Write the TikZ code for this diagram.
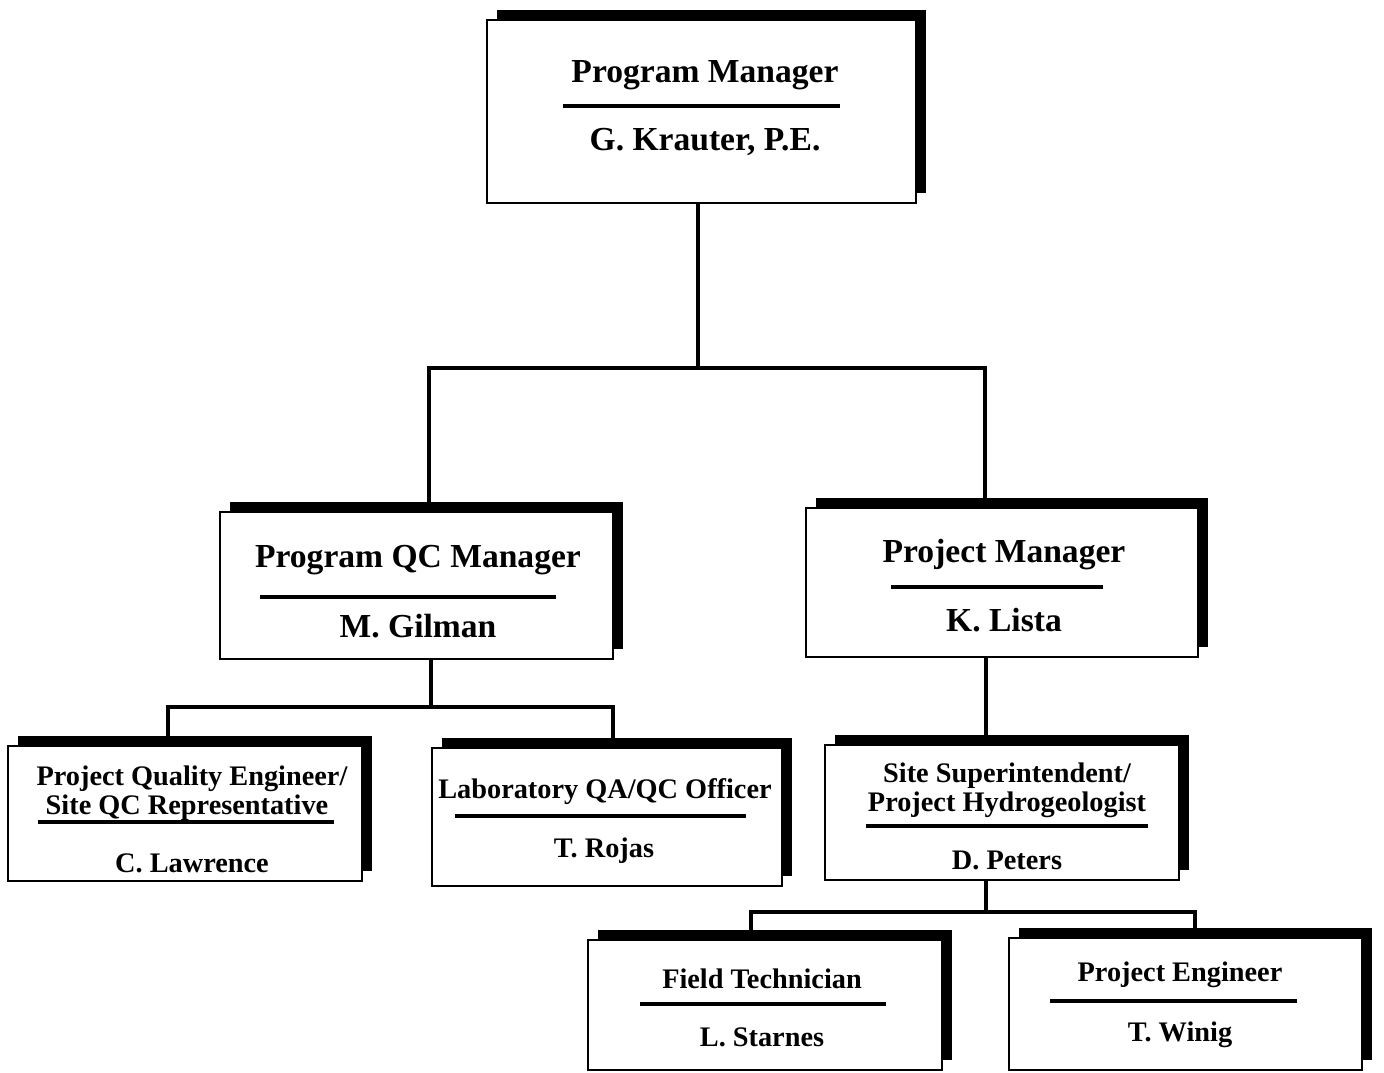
\documentclass[tikz,border=0pt]{standalone}
\usepackage{fontspec}
\setmainfont{Liberation Serif}
\usetikzlibrary{shadows}
\tikzset{
  orgbox/.style={draw=black, line width=0.75pt, fill=white, inner sep=0pt,
    drop shadow={shadow xshift=0.1cm, shadow yshift=0.1cm, opacity=1, fill=black}},
  bigtxt/.style={font=\fontsize{9.55}{11}\selectfont\bfseries, inner sep=0pt, anchor=base},
  smalltxt/.style={font=\fontsize{8.05}{9}\selectfont\bfseries, inner sep=0pt, anchor=base},
  rule/.style={line width=1pt},
  conn/.style={line width=0.9pt}
}
\begin{document}
\begin{tikzpicture}[x=0.01cm,y=-0.01cm]
\useasboundingbox (0,0) rectangle (1384,1072);
% boxes
\node[orgbox, minimum width=4.29cm, minimum height=1.83cm] (A) at (701.5,111.5) {};
\node[orgbox, minimum width=3.93cm, minimum height=1.47cm] (B) at (416.5,585.5) {};
\node[orgbox, minimum width=3.92cm, minimum height=1.49cm] (C) at (1002,582.5) {};
\node[orgbox, minimum width=3.54cm, minimum height=1.35cm] (D) at (185,813.5) {};
\node[orgbox, minimum width=3.50cm, minimum height=1.38cm] (E) at (607,817) {};
\node[orgbox, minimum width=3.54cm, minimum height=1.35cm] (F) at (1002,812.5) {};
\node[orgbox, minimum width=3.54cm, minimum height=1.30cm] (G) at (765,1005) {};
\node[orgbox, minimum width=3.53cm, minimum height=1.32cm] (H) at (1185.5,1004) {};
% texts
\node[bigtxt] (At) at (705,82) {Program Manager};
\draw[rule] (563,106) -- (840,106);
\node[bigtxt] (An) at (705,150) {G. Krauter, P.E.};

\node[bigtxt] (Bt) at (418,567) {Program QC Manager};
\draw[rule] (260,597) -- (556,597);
\node[bigtxt] (Bn) at (418,637) {M. Gilman};

\node[bigtxt] (Ct) at (1004,562) {Project Manager};
\draw[rule] (891,587) -- (1103,587);
\node[bigtxt] (Cn) at (1004,631) {K. Lista};

\node[smalltxt] (Dt1) at (192,785) {Project Quality Engineer/};
\node[smalltxt] (Dt2) at (187,814) {Site QC Representative};
\draw[rule] (38,822) -- (334,822);
\node[smalltxt] (Dn) at (192,872) {C. Lawrence};

\node[smalltxt] (Et) at (605,798) {Laboratory QA/QC Officer};
\draw[rule] (455,816) -- (746,816);
\node[smalltxt] (En) at (604,857) {T. Rojas};

\node[smalltxt] (Ft1) at (1007,782) {Site Superintendent/};
\node[smalltxt] (Ft2) at (1007,811) {Project Hydrogeologist};
\draw[rule] (866,826) -- (1148,826);
\node[smalltxt] (Fn) at (1007,869) {D. Peters};

\node[smalltxt] (Gt) at (762,988) {Field Technician};
\draw[rule] (640,1004) -- (886,1004);
\node[smalltxt] (Gn) at (762,1046) {L. Starnes};

\node[smalltxt] (Ht) at (1180,981) {Project Engineer};
\draw[rule] (1050,1001) -- (1297,1001);
\node[smalltxt] (Hn) at (1180,1041) {T. Winig};
% junctions
\coordinate (j1) at (698,368);
\coordinate (j1l) at (429,368);
\coordinate (j1r) at (985,368);
\coordinate (j2) at (431,707);
\coordinate (j2l) at (168,707);
\coordinate (j2r) at (613,707);
\coordinate (j3) at (986,912);
\coordinate (j3l) at (751,912);
\coordinate (j3r) at (1195,912);
% connectors
\draw[conn] (A.south -| j1) -- (j1);
\draw[conn] (B.north -| j1l) -- (j1l) -- (j1r) -- (C.north -| j1r);
\draw[conn] (B.south -| j2) -- (j2);
\draw[conn] (D.north -| j2l) -- (j2l) -- (j2r) -- (E.north -| j2r);
\draw[conn] (C.south -| j3) -- (F.north -| j3);
\draw[conn] (F.south -| j3) -- (j3);
\draw[conn] (G.north -| j3l) -- (j3l) -- (j3r) -- (H.north -| j3r);
\end{tikzpicture}
\end{document}
